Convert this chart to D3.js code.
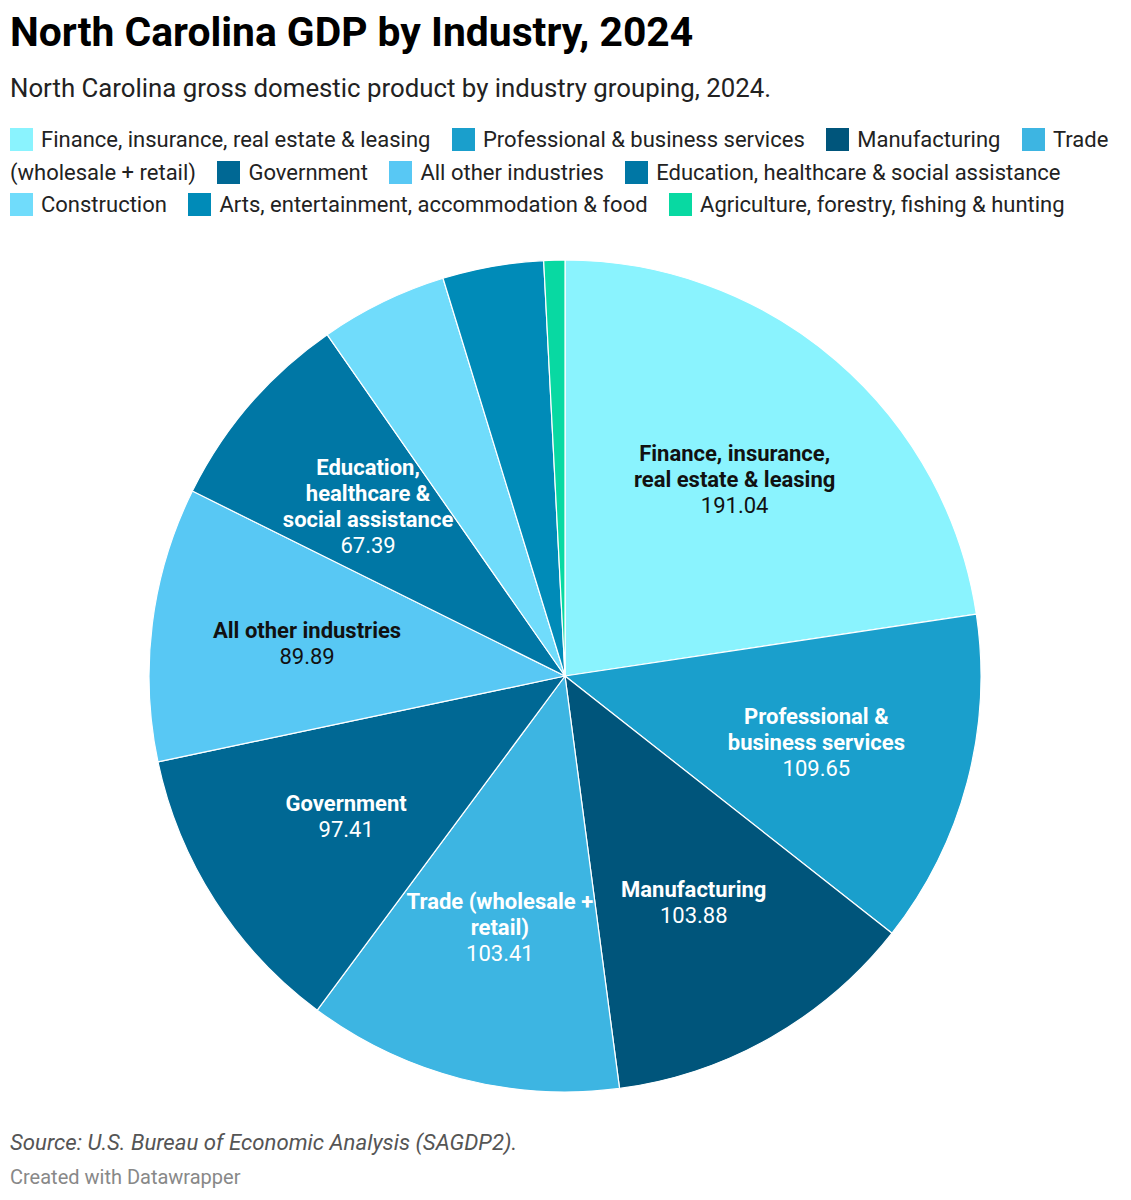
<!DOCTYPE html>
<html>
<head>
<meta charset="utf-8">
<script src="https://cdn.jsdelivr.net/npm/d3@7"></script>
<style>
  body { margin: 0; background: #fff; font-family: Roboto, "Noto Sans", sans-serif; color: #181818; }
  #page { position: relative; width: 1131px; height: 1200px; overflow: hidden; }
  .title { position: absolute; left: 10px; top: 8px; font-size: 40.8px; font-weight: 700; color: #000; white-space: nowrap; }
  .subtitle { position: absolute; left: 10px; top: 73px; font-size: 25.8px; color: #222; white-space: nowrap; }
  #legend { position: absolute; left: 10px; top: 124px; width: 1111px; font-size: 22px; line-height: 32.5px; color: #222; }
  .sw { display: inline-block; width: 23px; height: 23px; vertical-align: -4px; margin-right: 8px; }
  .head { white-space: nowrap; }
  .gap { display: inline-block; width: 16px; }
  .source { position: absolute; left: 10px; top: 1129px; font-size: 22.2px; font-style: italic; color: #555; white-space: nowrap; }
  .credit { position: absolute; left: 10px; top: 1165px; font-size: 20px; color: #888; white-space: nowrap; }
  svg { position: absolute; left: 0; top: 0; }
</style>
</head>
<body>
<div id="page">
  <div class="title">North Carolina GDP by Industry, 2024</div>
  <div class="subtitle">North Carolina gross domestic product by industry grouping, 2024.</div>
  <div id="legend"></div>
  <div class="source">Source: U.S. Bureau of Economic Analysis (SAGDP2).</div>
  <div class="credit">Created with Datawrapper</div>
</div>
<script>
// industries, clockwise from 12 o'clock
const industries = [
  "Finance, insurance, real estate & leasing",
  "Professional & business services",
  "Manufacturing",
  "Trade (wholesale + retail)",
  "Government",
  "All other industries",
  "Education, healthcare & social assistance",
  "Construction",
  "Arts, entertainment, accommodation & food",
  "Agriculture, forestry, fishing & hunting"
];

// GDP, billions of dollars (last three)
const gdp = [191.04, 109.65, 103.88, 103.41, 97.41, 89.89, 67.39, 41.8, 33.1, 6.9];

const colors = ["#8af3fe", "#1a9fcc", "#00557b", "#3db5e2", "#006894", "#58c8f4",
                "#0077a5", "#70dcfb", "#008bb8", "#08d9a2"];

// wrapped label lines inside the pie (empty = no label)
const labelLines = [
  ["Finance, insurance,", "real estate & leasing"],
  ["Professional &", "business services"],
  ["Manufacturing"],
  ["Trade (wholesale +", "retail)"],
  ["Government"],
  ["All other industries"],
  ["Education,", "healthcare &", "social assistance"],
  [], [], []
];

const data = industries.map((name, i) => ({ name, value: gdp[i], color: colors[i], lines: labelLines[i] }));

// legend: swatch + first word kept together, the rest word by word so it can wrap
const legend = d3.select("#legend");
data.forEach((d, i) => {
  const words = d.name.split(" ");
  const head = legend.append("span").attr("class", "head");
  head.append("span").attr("class", "sw").style("background", d.color);
  head.append("span").text(words[0]);
  words.slice(1).forEach(w => {
    legend.append("span").text(" ");
    legend.append("span").attr("class", "word").text(w);
  });
  if (i < data.length - 1) {
    legend.append("span").attr("class", "gap");
    legend.append("span").text(" ");
  }
});

// pie
const width = 1131, height = 1200;
const cx = 565, cy = 676, radius = 416;

const svg = d3.select("#page").append("svg")
  .attr("width", width)
  .attr("height", height);

const g = svg.append("g").attr("transform", `translate(${cx},${cy})`);

const pie = d3.pie().sort(null).value(d => d.value);
const arc = d3.arc().innerRadius(0).outerRadius(radius);
const labelArc = d3.arc().innerRadius(radius * 0.625).outerRadius(radius * 0.625);

const arcs = pie(data);

g.selectAll("path")
  .data(arcs)
  .join("path")
  .attr("d", arc)
  .attr("fill", d => d.data.color)
  .attr("stroke", "#fff")
  .attr("stroke-width", 1.2)
  .attr("stroke-linejoin", "round");

const lineH = 26;
const labels = g.selectAll("g.label")
  .data(arcs.filter(d => d.data.lines.length))
  .join("g")
  .attr("class", "label")
  .attr("transform", d => `translate(${labelArc.centroid(d)})`);

labels.each(function(d) {
  const lab = d3.select(this);
  const dark = d3.lab(d.data.color).l > 72;
  const fill = dark ? "#111" : "#fff";
  const n = d.data.lines.length + 1;
  const y0 = -(n - 1) / 2 * lineH;
  d.data.lines.forEach((t, i) => {
    lab.append("text")
      .attr("y", y0 + i * lineH)
      .attr("dy", "0.35em")
      .attr("text-anchor", "middle")
      .attr("font-size", 22)
      .attr("font-weight", 700)
      .attr("fill", fill)
      .text(t);
  });
  lab.append("text")
    .attr("y", y0 + (n - 1) * lineH)
    .attr("dy", "0.35em")
    .attr("text-anchor", "middle")
    .attr("font-size", 22)
    .attr("fill", fill)
    .text(d3.format(".2f")(d.data.value));
});
</script>
</body>
</html>
